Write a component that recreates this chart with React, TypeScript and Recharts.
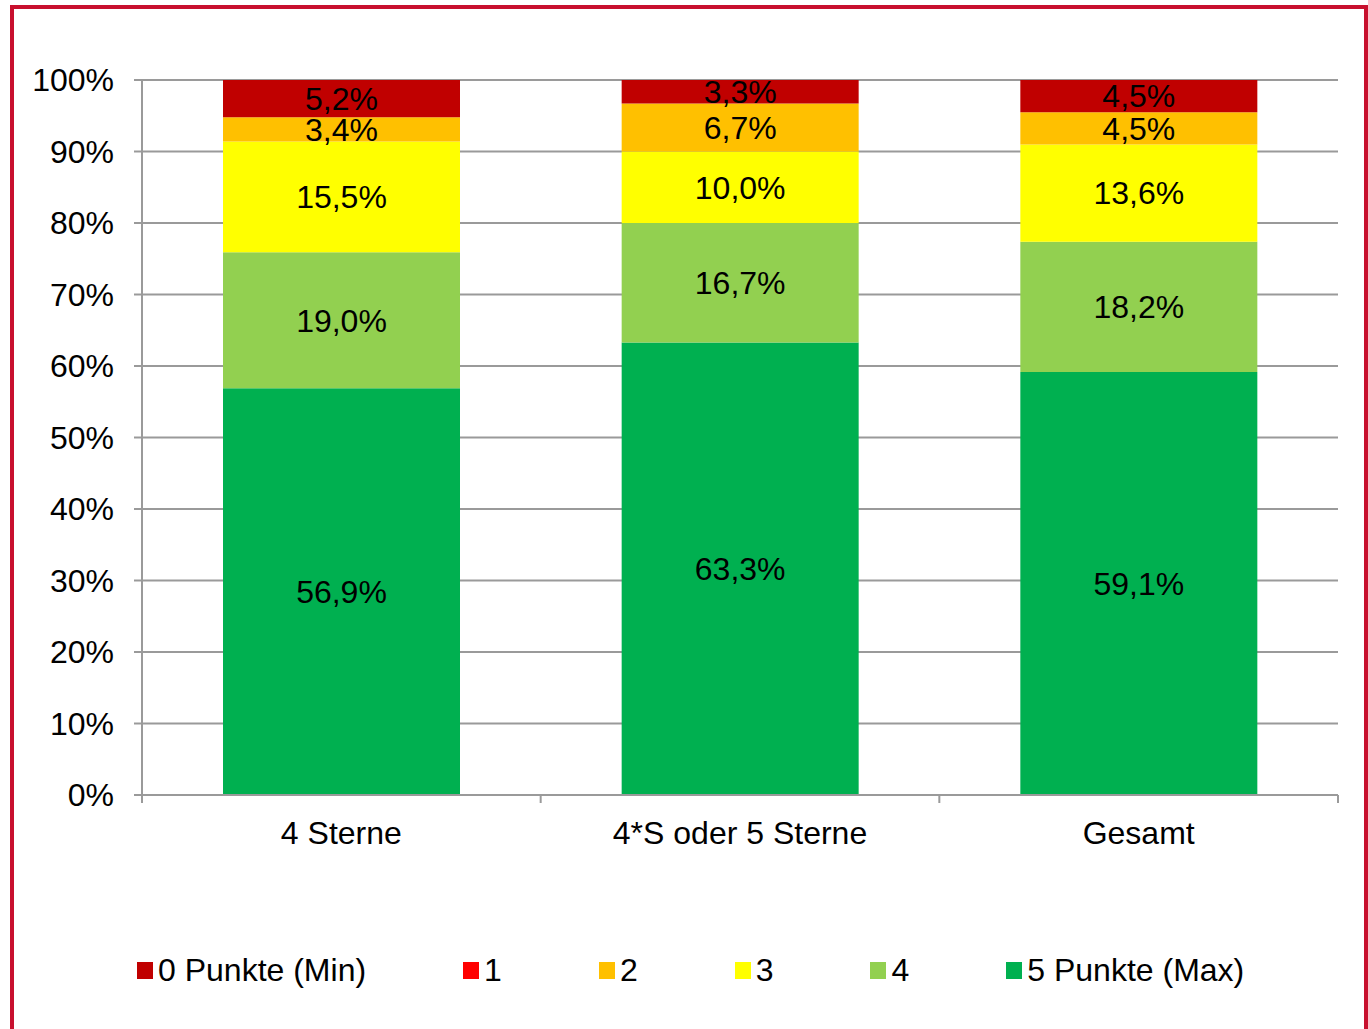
import React from 'react'
import {
  BarChart,
  Bar,
  XAxis,
  YAxis,
  CartesianGrid,
  Legend,
  LabelList,
} from 'recharts'

const categories = ['4 Sterne', '4*S oder 5 Sterne', 'Gesamt']
const punkte0 = [5.2, 3.3, 4.5]
const punkte1 = [0, 0, 0]
const punkte2 = [3.4, 6.7, 4.5]
const punkte3 = [15.5, 10.0, 13.6]
const punkte4 = [19.0, 16.7, 18.2]
const punkte5 = [56.9, 63.3, 59.1]
const yTicks = [0, 0.1, 0.2, 0.3, 0.4, 0.5, 0.6, 0.7, 0.8, 0.9, 1]
const edgeTicks = [0, 1, 2, 3]

// legend order is top-down, stack order is bottom-up
const seriesDefs = [
  { key: 'p0', name: '0 Punkte (Min)', color: '#C00000', values: punkte0 },
  { key: 'p1', name: '1', color: '#FF0000', values: punkte1 },
  { key: 'p2', name: '2', color: '#FFC000', values: punkte2 },
  { key: 'p3', name: '3', color: '#FFFF00', values: punkte3 },
  { key: 'p4', name: '4', color: '#92D050', values: punkte4 },
  { key: 'p5', name: '5 Punkte (Max)', color: '#00B050', values: punkte5 },
]

const chartData = categories.map((c, i) => {
  const row: Record<string, any> = { name: c, edge: i + 0.5 }
  seriesDefs.forEach((s) => {
    row[s.key] = s.values[i]
  })
  return row
})

const FONT = 'Arial, "Liberation Sans", sans-serif'
const GRAY = '#9a9a9a'
const FS = 32

const fmt = (v: any) => (v ? `${Number(v).toFixed(1).replace('.', ',')}%` : '')

function LegendBox() {
  return (
    <div style={{ display: 'flex', gap: 97, fontFamily: FONT, fontSize: FS }}>
      {seriesDefs.map((s) => (
        <div key={s.key} style={{ display: 'flex', alignItems: 'center' }}>
          <span
            style={{
              display: 'inline-block',
              width: 16,
              height: 17,
              background: s.color,
              marginRight: 5,
            }}
          />
          <span style={{ color: '#000', lineHeight: '36px' }}>{s.name}</span>
        </div>
      ))}
    </div>
  )
}

const NoTick = () => <g />

export default function App() {
  const stackOrder = [...seriesDefs].reverse()
  return (
    <div
      style={{
        position: 'absolute',
        left: 0,
        top: 0,
        width: 1368,
        height: 1029,
        background: '#fff',
        overflow: 'hidden',
      }}
    >
      <div
        style={{
          position: 'absolute',
          left: 10,
          top: 5,
          width: 1358,
          height: 1060,
          border: '4px solid #C8102E',
          boxSizing: 'border-box',
        }}
      />
      <div style={{ position: 'absolute', left: 0, top: 0 }}>
        <BarChart
          width={1368}
          height={1029}
          data={chartData}
          stackOffset="expand"
          barCategoryGap={81}
          margin={{ top: 80, right: 30, bottom: 173, left: 0 }}
        >
          <CartesianGrid vertical={false} stroke={GRAY} strokeWidth={2} />
          <XAxis
            xAxisId="a"
            dataKey="edge"
            type="number"
            domain={[0, 3]}
            ticks={edgeTicks}
            interval={0}
            height={1}
            tickSize={8}
            tickLine={{ stroke: GRAY, strokeWidth: 2 }}
            axisLine={{ stroke: GRAY, strokeWidth: 2 }}
            tick={<NoTick />}
          />
          <XAxis
            xAxisId="b"
            dataKey="name"
            height={60}
            axisLine={false}
            tickLine={false}
            tickMargin={19}
            tick={{ fill: '#000', fontSize: FS, fontFamily: FONT }}
          />
          <YAxis
            width={142}
            domain={[0, 1]}
            ticks={yTicks}
            tickFormatter={(v) => `${Math.round(v * 100)}%`}
            tickSize={8}
            tickMargin={20}
            tickLine={{ stroke: GRAY, strokeWidth: 2 }}
            axisLine={{ stroke: GRAY, strokeWidth: 2 }}
            tick={{ fill: '#000', fontSize: FS, fontFamily: FONT }}
          />
          <Legend
            layout="horizontal"
            verticalAlign="middle"
            align="center"
            wrapperStyle={{ position: 'absolute', top: 952, left: 137, width: 1220 }}
            content={() => <LegendBox />}
          />
          {stackOrder.map((s) => (
            <Bar
              key={s.key}
              xAxisId="b"
              dataKey={s.key}
              name={s.name}
              stackId="a"
              fill={s.color}
              isAnimationActive={false}
            >
              {s.key !== 'p1' && (
                <LabelList
                  dataKey={s.key}
                  position="center"
                  formatter={fmt}
                  style={{ fill: '#000', fontSize: FS, fontFamily: FONT }}
                />
              )}
            </Bar>
          ))}
        </BarChart>
      </div>
    </div>
  )
}
